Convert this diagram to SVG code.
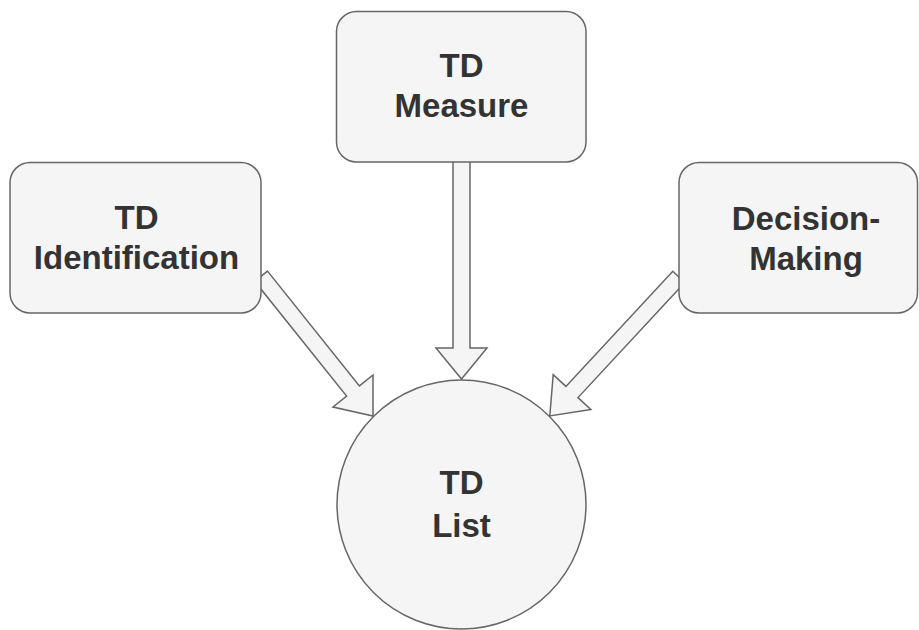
<svg xmlns="http://www.w3.org/2000/svg" width="919" height="630" viewBox="0 0 919 630">
  <style>
    .shape { fill: #f5f5f5; stroke: #666666; stroke-width: 1.5; }
    .arrow { fill: #f5f5f5; stroke: #666666; stroke-width: 1.5; stroke-linejoin: miter; }
    .label { font-family: "Liberation Sans", Arial, Helvetica, sans-serif; font-weight: bold; font-size: 33px; fill: #333333; text-anchor: middle; }
  </style>
  <rect width="919" height="630" fill="#ffffff"/>

  <!-- block arrows feeding the list -->
  <g id="connectors">
    <polygon class="arrow" points="267.5,271.1 359.4,385.9 373,375 373,416 333,407 346.6,396.1 254.7,281.3"/>
    <polygon class="arrow" points="453,150 470,150 470,348 487,348 461.5,379 436,348 453,348"/>
    <polygon class="arrow" points="684.8,282.5 578,397.6 590.8,409.4 549.8,415.9 553.2,374.6 565.9,386.4 672.8,271.3"/>
  </g>

  <g id="td-identification">
    <rect class="shape" x="10" y="162.5" width="251" height="150.5" rx="20" ry="20"/>
    <text class="label" x="136.5" y="229">TD</text>
    <text class="label" x="136.5" y="269">Identification</text>
  </g>

  <g id="td-measure">
    <rect class="shape" x="336.5" y="11.5" width="249.5" height="150.5" rx="20" ry="20"/>
    <text class="label" x="461.5" y="77">TD</text>
    <text class="label" x="461.5" y="117">Measure</text>
  </g>

  <g id="decision-making">
    <rect class="shape" x="679" y="162.5" width="238.5" height="150.5" rx="20" ry="20"/>
    <text class="label" x="806" y="230">Decision-</text>
    <text class="label" x="806" y="270">Making</text>
  </g>

  <g id="td-list">
    <circle class="shape" cx="461.5" cy="504.5" r="124.5"/>
    <text class="label" x="461.5" y="494">TD</text>
    <text class="label" x="461.5" y="537">List</text>
  </g>
</svg>
